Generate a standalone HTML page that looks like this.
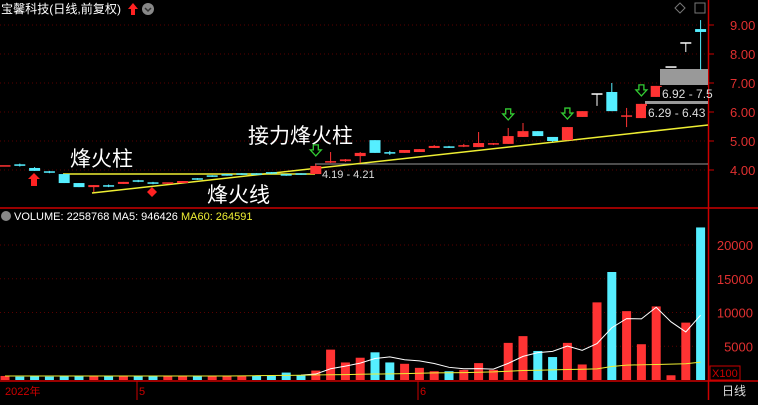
<!DOCTYPE html>
<html><head><meta charset="utf-8"><style>
body{margin:0;background:#000;width:758px;height:400px;overflow:hidden;font-family:"Liberation Sans","Noto Sans CJK SC",sans-serif}
svg text{font-family:"Liberation Sans","Noto Sans CJK SC",sans-serif}
</style></head><body>
<svg id="c" width="758" height="400" xmlns="http://www.w3.org/2000/svg">
<rect width="758" height="400" fill="#000"/>
<g id="grid"></g>
<line x1="0" y1="208" x2="758" y2="208" stroke="#c00" stroke-width="1.5"/>
<line x1="0" y1="381" x2="758" y2="381" stroke="#c00" stroke-width="1.5"/>
<line x1="708.5" y1="0" x2="708.5" y2="400" stroke="#c00" stroke-width="1.5"/>
<text x="1" y="13" fill="#fff" font-size="12" textLength="120" lengthAdjust="spacingAndGlyphs">宝馨科技(日线,前复权)</text>
<path d="M133 3 l5 6 h-3 v6 h-4 v-6 h-3z" fill="#f22"/>
<circle cx="148" cy="9" r="6" fill="#888"/>
<path d="M145 8 l3 3 l3 -3" stroke="#333" fill="none" stroke-width="1.5"/>
<path d="M680 3 l5 5 l-5 5 l-5 -5z" stroke="#777" fill="none"/>
<rect x="695" y="3" width="10" height="10" stroke="#777" fill="none"/>
<line x1="63" y1="174" x2="315" y2="174" stroke="#ee3" stroke-width="1.5"/>
<line x1="315" y1="164" x2="708" y2="164" stroke="#999" stroke-width="1"/>
<line x1="92" y1="193" x2="708" y2="125" stroke="#ee3" stroke-width="1.5"/>
<rect x="660" y="69" width="48" height="16" fill="#999"/>
<rect x="645" y="101" width="63" height="3" fill="#999"/>
<g id="candles"></g>
<rect x="660" y="87" width="48" height="14" fill="#000"/>
<text x="662" y="98" fill="#ddd" font-size="12">6.92 - 7.5</text>
<rect x="646" y="106" width="60" height="14" fill="#000"/>
<text x="648" y="117" fill="#ddd" font-size="12">6.29 - 6.43</text>
<text x="322" y="178" fill="#ddd" font-size="11">4.19 - 4.21</text>
<text x="70" y="166" fill="#fff" font-size="21">烽火柱</text>
<text x="248" y="143" fill="#fff" font-size="21">接力烽火柱</text>
<text x="207" y="202" fill="#fff" font-size="21">烽火线</text>
<path d="M34 173 l6 6 h-3 v7 h-6 v-7 h-3z" fill="#f22"/>
<path d="M152 187 l5 5 l-5 5 l-5 -5z" fill="#f22"/>
<g id="downarrows"></g>
<circle cx="6" cy="216" r="5" fill="#888"/>
<text x="14" y="220" fill="#fff" font-size="11">VOLUME: 2258768 MA5: 946426 <tspan fill="#ee3">MA60: 264591</tspan></text>
<g id="vol"></g>
<rect x="710" y="366" width="30" height="14" fill="none" stroke="#c00"/>
<text x="712" y="377" fill="#c00" font-size="11">X100</text>
<text x="5" y="395" fill="#c00" font-size="11">2022年</text>
<line x1="137" y1="381" x2="137" y2="400" stroke="#c00"/>
<text x="139" y="395" fill="#c00" font-size="11">5</text>
<line x1="418" y1="381" x2="418" y2="400" stroke="#c00"/>
<text x="420" y="395" fill="#c00" font-size="11">6</text>
<text x="722" y="395" fill="#ddd" font-size="12">日线</text>
<g id="axes"></g>
</svg>
<script>
const opens=[4.14,4.17,4.07,3.93,3.86,3.55,3.41,3.45,3.52,3.62,3.55,3.52,3.55,3.69,3.79,3.83,3.86,3.86,3.90,3.83,3.86,3.86,4.28,4.28,4.48,5.03,4.59,4.59,4.62,4.76,4.79,4.83,4.79,4.90,4.90,5.14,5.34,5.14,5.03,5.83,6.62,6.69,5.86,5.79,6.52,7.55,8.38,8.86];
const closes=[4.14,4.17,3.97,3.93,3.55,3.41,3.48,3.45,3.59,3.62,3.55,3.55,3.62,3.69,3.79,3.83,3.86,3.86,3.90,3.83,3.86,4.14,4.28,4.34,4.59,4.59,4.59,4.69,4.72,4.83,4.79,4.83,4.93,4.90,5.17,5.34,5.17,5.00,5.48,6.03,6.62,6.03,5.86,6.28,6.90,7.55,8.38,8.76];
const highs=[4.15,4.22,4.10,3.97,3.86,3.55,3.48,3.50,3.59,3.66,3.59,3.55,3.62,3.72,3.82,3.86,3.89,3.89,3.93,3.86,3.89,4.21,4.62,4.38,4.62,5.03,4.66,4.69,4.72,4.86,4.83,4.90,5.31,4.93,5.45,5.62,5.34,5.07,5.48,6.03,6.62,7.00,6.14,6.28,6.90,7.55,8.38,9.17];
const lows=[4.13,4.12,3.97,3.89,3.55,3.41,3.24,3.41,3.52,3.58,3.51,3.52,3.55,3.66,3.76,3.80,3.83,3.83,3.86,3.80,3.83,3.86,4.24,4.28,4.24,4.59,4.52,4.59,4.62,4.76,4.76,4.79,4.79,4.86,4.90,5.14,5.17,4.97,5.03,5.83,6.21,6.03,5.48,5.79,6.52,7.55,8.07,7.45];
const candleColors=["r","c","c","c","c","c","r","c","r","c","c","r","r","c","c","c","c","c","c","c","c","r","r","r","r","c","c","r","r","r","c","r","r","r","r","r","c","c","r","r","w","c","r","r","r","w","w","c"];
const volumes=[600,500,600,500,600,600,600,600,600,600,600,600,600,600,600,600,600,600,600,1100,700,1400,4500,2600,3300,4100,2600,2400,1800,1300,1300,1500,2500,1500,5500,6500,4300,3400,5500,2300,11500,16000,10200,5300,10900,700,8500,22600];
const volColors=["r","c","c","c","c","c","r","c","r","c","c","r","r","c","r","r","r","c","c","c","c","r","r","r","r","c","c","r","r","r","c","r","r","r","r","r","c","c","r","r","r","c","r","r","r","r","r","c"];
const ma60=[600,600,600,600,600,600,600,600,600,600,600,600,600,600,600,600,620,640,660,680,700,750,780,800,850,880,900,950,1000,1050,1080,1100,1150,1200,1300,1400,1450,1500,1550,1600,1650,2000,2200,2250,2300,2350,2400,2650];
const priceTicks=[4,5,6,7,8,9];
const volTicks=[5000,10000,15000,20000];
const downArrowIdx=[21,34,38,43];
const NS="http://www.w3.org/2000/svg";
const X=i=>5+i*14.8, PY=p=>170-(p-4)*29, VY=v=>380-v*0.00675;
const col={r:"#ff3333",c:"#55eeff",w:"#ffffff"};
function mk(tag,attrs,parent){const e=document.createElementNS(NS,tag);for(const k in attrs)e.setAttribute(k,attrs[k]);parent.appendChild(e);return e;}
const grid=document.getElementById('grid'),axes=document.getElementById('axes');
priceTicks.forEach(t=>{
 const g=mk('line',{x1:0,x2:708,y1:PY(t),y2:PY(t),stroke:"#5a0000","stroke-dasharray":"1,3"},grid);
 
 const tk=mk('line',{x1:708,x2:714,y1:PY(t),y2:PY(t),stroke:"#c00"},axes);
 
 const tx=mk('text',{x:730,y:PY(t)+5,fill:"#e03030","font-size":"13"},axes);tx.textContent=t.toFixed(2);
 
});
volTicks.forEach(t=>{
 const g=mk('line',{x1:0,x2:708,y1:VY(t),y2:VY(t),stroke:"#5a0000","stroke-dasharray":"1,3"},grid);
 
 const tx=mk('text',{x:753,y:VY(t)+5,fill:"#e03030","font-size":"13","text-anchor":"end"},axes);tx.textContent=t;
 
});
const cg=document.getElementById('candles');
opens.forEach((o,i)=>{
 const c=closes[i],x=X(i),cl=col[candleColors[i]];
 const w=mk('line',{x1:x,x2:x,y1:PY(highs[i]),y2:PY(lows[i]),stroke:cl},cg);
 
 const top=PY(Math.max(o,c)),h=Math.max(1.5,Math.abs(PY(o)-PY(c)));
 const b=mk('rect',{x:x-5.5,y:top-(h<2?0.75:0),width:11,height:h,fill:cl},cg);
 
});
const da=document.getElementById('downarrows');
downArrowIdx.forEach(i=>{
 const x=X(i),y=PY(highs[i])-14;
 const a=mk('path',{d:`M${x-2.5} ${y-5} h5 v5 h3 l-5.5 6 l-5.5 -6 h3z`,fill:"none",stroke:"#3c3","stroke-width":"1.3"},da);
 
});
const vg=document.getElementById('vol');
volumes.forEach((v,i)=>{
 const b=mk('rect',{x:X(i)-4.5,y:VY(v),width:9,height:380-VY(v),fill:col[volColors[i]]},vg);
 
});
let p5=[];
for(let i=20;i<volumes.length;i++){let s=0;for(let k=i-4;k<=i;k++)s+=volumes[k];p5.push(X(i)+","+VY(s/5));}
const m5=mk('polyline',{points:p5.join(" "),fill:"none",stroke:"#fff","stroke-width":"1"},vg);

const m60=mk('polyline',{points:ma60.map((v,i)=>X(i)+","+VY(v)).join(" "),fill:"none",stroke:"#ee3","stroke-width":"1"},vg);

</script>
</body></html>
